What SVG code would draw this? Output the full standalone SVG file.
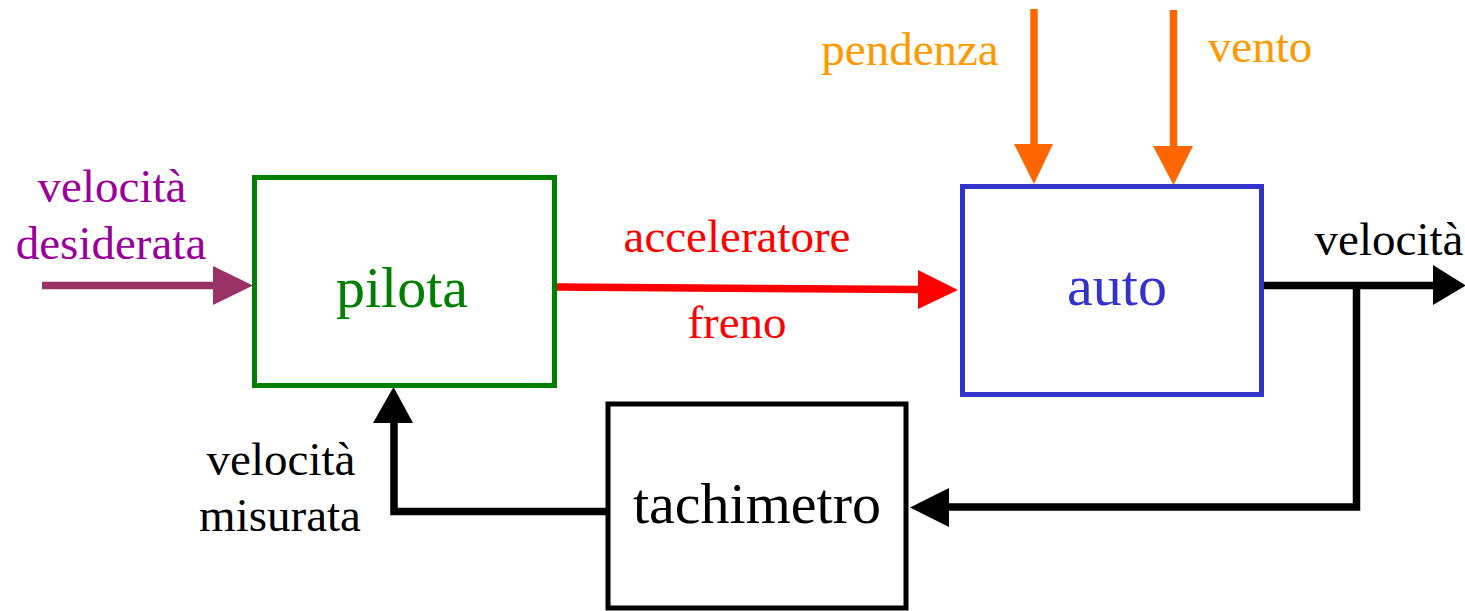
<svg xmlns="http://www.w3.org/2000/svg" width="1465" height="611" viewBox="0 0 1465 611">
<style>
text{font-family:"Liberation Serif","Times New Roman",serif;text-anchor:middle}
.lbl{font-size:47px}
.box{font-size:58px}
.node rect{fill:#fff;stroke-width:5}
.conn{fill:none;stroke-width:7.5;stroke-linecap:butt}
</style>
<rect width="1465" height="611" fill="#fff"/>
<g id="connectors">
  <line class="conn" x1="42" y1="285.5" x2="215" y2="285.5" stroke="#993366"/>
  <polygon points="213,266 253,285.5 213,305" fill="#993366"/>
  <line class="conn" x1="555" y1="287" x2="920" y2="289.5" stroke="#ff0000"/>
  <polygon points="918,270 958,290 918,309" fill="#ff0000"/>
  <line class="conn" x1="1034" y1="9" x2="1034" y2="146" stroke="#ff6600"/>
  <polygon points="1014,144 1053,144 1034,184" fill="#ff6600"/>
  <line class="conn" x1="1173.5" y1="10" x2="1173.5" y2="148" stroke="#ff6600"/>
  <polygon points="1153,146 1193,146 1173.5,185" fill="#ff6600"/>
  <line class="conn" x1="1262" y1="285.5" x2="1435" y2="285.5" stroke="#000"/>
  <polygon points="1433,265 1466,285.5 1433,305" fill="#000"/>
  <polyline class="conn" points="1356.5,285.5 1356.5,507 947,507" stroke="#000"/>
  <polygon points="949,488 910,507.5 949,527" fill="#000"/>
  <polyline class="conn" points="606,511.5 394,511.5 394,421" stroke="#000"/>
  <polygon points="373,423 413,423 393.5,387" fill="#000"/>
</g>
<g id="pilota" class="node">
  <rect x="254.5" y="177.5" width="300" height="208" stroke="#008000"/>
  <text class="box" x="402" y="307" fill="#008000">pilota</text>
</g>
<g id="auto" class="node">
  <rect x="962.5" y="186.5" width="299" height="208" stroke="#3333cc"/>
  <text class="box" x="1117" y="305" fill="#3333cc">auto</text>
</g>
<g id="tachimetro" class="node">
  <rect x="608" y="404" width="298" height="204" stroke="#000"/>
  <text class="box" x="757" y="523" fill="#000">tachimetro</text>
</g>
<g id="labels">
  <text class="lbl" x="112" y="202" fill="#990099">velocità</text>
  <text class="lbl" x="111" y="259" fill="#990099">desiderata</text>
  <text class="lbl" x="737" y="252" fill="#ff0000">acceleratore</text>
  <text class="lbl" x="737" y="338" fill="#ff0000">freno</text>
  <text class="lbl" x="910" y="65" fill="#ff9900">pendenza</text>
  <text class="lbl" x="1260" y="62" fill="#ff9900">vento</text>
  <text class="lbl" x="1389" y="255" fill="#000">velocità</text>
  <text class="lbl" x="281" y="475" fill="#000">velocità</text>
  <text class="lbl" x="280" y="531" fill="#000">misurata</text>
</g>
</svg>
